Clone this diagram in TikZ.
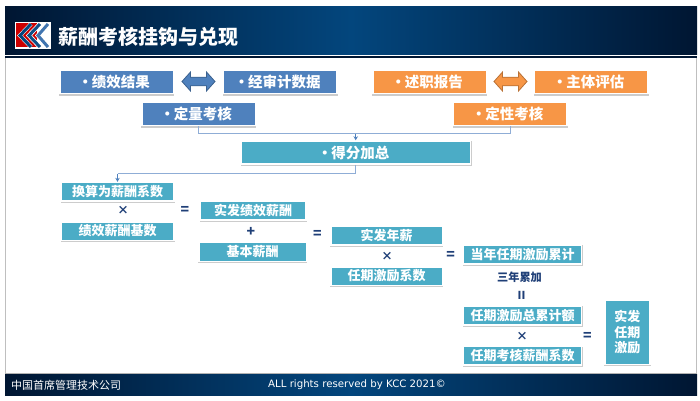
\documentclass[tikz,border=0pt]{standalone}
\usepackage{fontspec}
\setmainfont{Noto Sans CJK SC}
\newfontfamily\latinfont{DejaVu Sans}
\definecolor{headdark}{RGB}{0, 22, 50}
\definecolor{headmid}{RGB}{3, 70, 125}
\definecolor{kccblue}{RGB}{79, 129, 189}
\definecolor{kccorange}{RGB}{247, 150, 70}
\definecolor{kccteal}{RGB}{75, 172, 198}
\definecolor{kccline}{RGB}{143, 173, 214}
\definecolor{kccop}{RGB}{31, 63, 119}
\usetikzlibrary{arrows.meta,calc,shadows}
\newcommand{\bul}[1]{·\hspace{-0.6pt}#1\hspace*{5pt}}
\newcommand{\swapshape}[2]{\draw[line width=0.8pt, draw=#2!75!black, fill=#2, shift={(#1)}] (-16.5,0) -- (-8,-9.5) -- (-8,-4.3) -- (8,-4.3) -- (8,-9.5) -- (16.5,0) -- (8,9.5) -- (8,4.3) -- (-8,4.3) -- (-8,9.5) -- cycle;}

\begin{document}
\begin{tikzpicture}[x=1pt, y=-1pt,
    card/.style={rectangle, draw=white, line width=1.5pt, text=white, font=\bfseries\fontsize{13}{15}\selectfont, inner sep=0pt, align=center, drop shadow={shadow xshift=0.4pt, shadow yshift=-1.1pt, fill=black!20, draw=black!20, line width=1.5pt, opacity=1}},
    bigcard/.style={card, minimum width=113.5pt, minimum height=23pt, font=\bfseries\fontsize{14.5}{16}\selectfont},
    calccard/.style={card, fill=kccteal},
    op/.style={text=kccop, font=\bfseries\fontsize{14}{16}\selectfont, inner sep=0pt},
    times/.style={op, font=\bfseries\fontsize{11.5}{13}\selectfont},
    link/.style={kccline, line width=0.7pt},
    tip/.style={-{Stealth[length=4pt, width=4.5pt]}, kccblue, line width=0.7pt}]
    \useasboundingbox (0,0) rectangle (700,400);

    % Frame
    \draw[black!25, line width=0.8pt] (5,57) -- (5,374);
    \draw[black!25, line width=0.8pt] (696,57) -- (696,374);

    % Header
    \shade[left color=headdark, right color=headdark, middle color=headmid] (5,6) rectangle (697,54);
    \fill[headdark] (5,56) rectangle (697,57.5);
    \node[text=white, font=\bfseries\fontsize{20}{24}\selectfont, anchor=west, inner sep=0pt] (title) at (58,37) {薪酬考核挂钩与兑现};

    % Logo
    \fill[white] (14.5,22) rectangle (50.5,48.5);
    \fill[red!80!black] (15.5,23) rectangle (37,47);
    \draw[white, line width=4pt, miter limit=8] (31,24) -- (20,35.5) -- (31,47);
    \draw[headmid, line width=3pt, miter limit=8] (31,24) -- (20,35.5) -- (31,47);
    \draw[white, line width=4.5pt, miter limit=8] (40,24) -- (29,35.5) -- (40,47);
    \draw[headmid!85!kccblue, line width=3pt, miter limit=8] (40,24) -- (29,35.5) -- (40,47);
    \draw[white, line width=4.5pt, miter limit=8] (48,24) -- (38,35.5) -- (48,47);
    \draw[kccblue!80!headmid, line width=3pt, miter limit=8] (48,24) -- (38,35.5) -- (48,47);

    % Inputs
    \node[bigcard, fill=kccblue] (Perf) at (116.5,82.2) {\bul{绩效结果}};
    \node[bigcard, fill=kccblue] (Audit) at (280,82.2) {\bul{经审计数据}};
    \node[bigcard, fill=kccblue] (Quant) at (198.5,114.2) {\bul{定量考核}};
    \node[bigcard, fill=kccorange] (Report) at (429.5,82.2) {\bul{述职报告}};
    \node[bigcard, fill=kccorange] (Eval) at (591,82.2) {\bul{主体评估}};
    \node[bigcard, fill=kccorange] (Qual) at (510,114.2) {\bul{定性考核}};
    \swapshape{198.5,81.5}{kccblue}
    \swapshape{510.5,81.5}{kccorange}

    % Total
    \node[bigcard, fill=kccteal, minimum width=229pt] (Total) at (356,152.5) {\bul{得分加总}};
    \coordinate (Hub) at (355.7,133.5);
    \coordinate (Turn) at (355.7,173.5);
    \draw[link] (Quant.south) |- (Hub);
    \draw[link] (Qual.south) |- (Hub);
    \draw[tip] (Hub) -- (Hub |- Total.north);

    % First row
    \node[calccard, minimum width=113pt, minimum height=18.5pt] (Coef) at (117.5,191.8) {换算为薪酬系数};
    \node[calccard, minimum width=113pt, minimum height=18.5pt] (Base) at (117.5,231) {绩效薪酬基数};
    \draw[link] (Total.south -| Turn) -- (Turn) -- (Turn -| Coef.north);
    \draw[tip] (Turn -| Coef.north) -- (Coef.north);
    \node[times] (OpA) at (123,210) {×};
    \node[op] (EqA) at (185,210) {=};

    % Second row
    \node[calccard, minimum width=106pt, minimum height=19pt] (Paid) at (253,210.3) {实发绩效薪酬};
    \node[calccard, minimum width=107.5pt, minimum height=19pt] (Basic) at (252.5,252) {基本薪酬};
    \node[op] (OpB) at (251,232) {+};
    \node[op] (EqB) at (317.5,234) {=};

    % Third row
    \node[calccard, minimum width=111.5pt, minimum height=18.5pt] (Annual) at (386.5,235.8) {实发年薪};
    \node[calccard, minimum width=111.5pt, minimum height=18.5pt] (Tenure) at (386.5,276) {任期激励系数};
    \node[times] (OpC) at (387,256) {×};
    \node[op] (EqC) at (450.7,255.7) {=};

    % Fourth row
    \node[calccard, minimum width=118pt, minimum height=19pt] (Year) at (522.5,254.5) {当年任期激励累计};
    \node[text=kccop, font=\bfseries\fontsize{11.2}{13}\selectfont, inner sep=0pt] (Three) at (519.5,277) {三年累加};
    \node[op, font=\bfseries\fontsize{11}{12}\selectfont] (Same) at (521.5,295) {II};
    \node[calccard, minimum width=118pt, minimum height=19pt] (Sum) at (522.5,315.3) {任期激励总累计额};
    \node[calccard, minimum width=118pt, minimum height=18.5pt] (Assess) at (522.5,355.5) {任期考核薪酬系数};
    \node[times] (OpD) at (522,336) {×};
    \node[op] (EqD) at (587.5,336.5) {=};
    \node[calccard, minimum width=45pt, minimum height=64pt, font=\bfseries\fontsize{13}{15.5}\selectfont] (Final) at (627.3,332.5) {实发\\任期\\激励};

    % Footer
    \fill[black!30] (5,373) rectangle (697,374.5);
    \shade[left color=headdark, right color=headdark, middle color=headmid] (5,374.5) rectangle (697,395);
    \node[text=white, font=\fontsize{11}{13}\selectfont, anchor=west, inner sep=0pt] (company) at (11,385) {中国首席管理技术公司};
    \node[text=white, font=\latinfont\fontsize{10.2}{12}\selectfont, anchor=west, inner sep=0pt] (rights) at (268,385) {ALL rights reserved by KCC 2021©};
\end{tikzpicture}
\end{document}
